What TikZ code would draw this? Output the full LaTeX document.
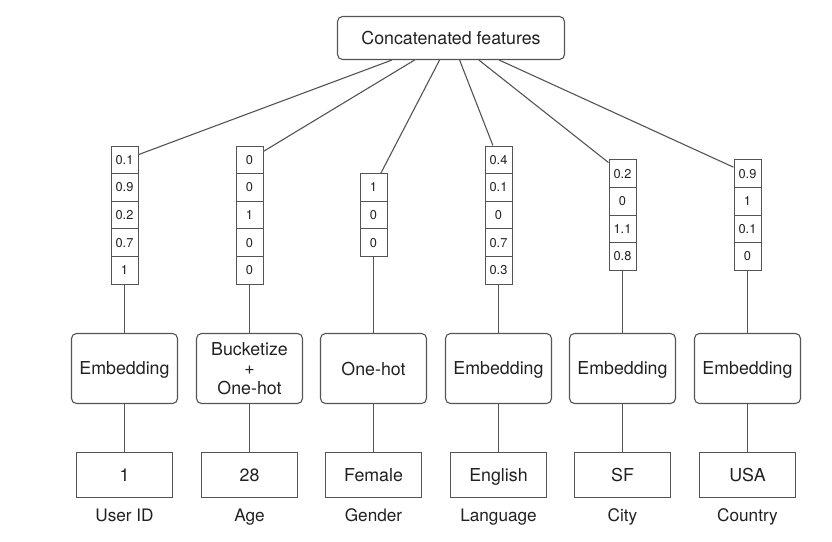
\documentclass[tikz,border=0pt]{standalone}
\usepackage{fontspec}
\setmainfont{TeX Gyre Heros}
\usepackage{xcolor}
\usetikzlibrary{positioning}
\definecolor{lineGray}{gray}{0.33}
\definecolor{textGray}{gray}{0.13}
\tikzset{
  topbox/.style={rectangle, rounded corners=5pt, draw=lineGray, line width=1.1pt, minimum width=227pt, minimum height=43pt, text depth=0pt, text=textGray, font=\fontsize{17.8}{20}\selectfont},
  procbox/.style={rectangle, rounded corners=5pt, draw=lineGray, line width=1.1pt, minimum width=106pt, minimum height=70pt, align=center, text depth=0pt, text=textGray, font=\fontsize{17.8}{19.5}\selectfont},
  inbox/.style={rectangle, draw=lineGray, line width=1.1pt, minimum width=96pt, minimum height=45pt, text depth=0pt, text=textGray, font=\fontsize{17.8}{20}\selectfont},
  cell/.style={rectangle, draw=lineGray, line width=1pt, minimum width=27pt, minimum height=27.6pt, inner sep=0pt, text depth=0pt, text=textGray, font=\fontsize{12.8}{14}\selectfont},
  caption/.style={inner sep=0pt, text height=12.3pt, text depth=3.5pt, text=textGray, font=\fontsize{17.2}{20}\selectfont},
  link/.style={draw=lineGray, line width=1.1pt}
}

\begin{document}
\begin{tikzpicture}[x=1pt, y=-1pt]
  \useasboundingbox (0,0) rectangle (832,541);
  \node[topbox] (concat) at (451,38) {Concatenated features};
  % one column per feature: x, top cell y, transform, raw value, name, vector
  \foreach \i/\x/\ytop/\kind/\raw/\name/\vals in {
      1/124.5/159.8/Embedding/1/User ID/{0.1,0.9,0.2,0.7,1},
      2/249.5/159.8/{Bucketize\\+\\One-hot}/28/Age/{0,0,1,0,0},
      3/373.5/187.4/One-hot/Female/Gender/{1,0,0},
      4/498.5/159.8/Embedding/English/Language/{0.4,0.1,0,0.7,0.3},
      5/622.5/173.6/Embedding/SF/City/{0.2,0,1.1,0.8},
      6/747.5/173.6/Embedding/USA/Country/{0.9,1,0.1,0}}{
    \foreach \v [count=\j] in \vals {
      \node[cell] (v\i-\j) at (\x,{\ytop+(\j-1)*27.6}) {\v};
      \xdef\last{\j}
    }
    \node[procbox] (p\i) at (\x,368.5) {\kind};
    \node[inbox] (in\i) at (\x,475) {\raw};
    \node[caption, below=11pt of in\i] (lab\i) {\name};
    \draw[link] (concat) -- (v\i-1);
    \draw[link] (v\i-\last) -- (p\i);
    \draw[link] (p\i) -- (in\i);
  }
\end{tikzpicture}
\end{document}
